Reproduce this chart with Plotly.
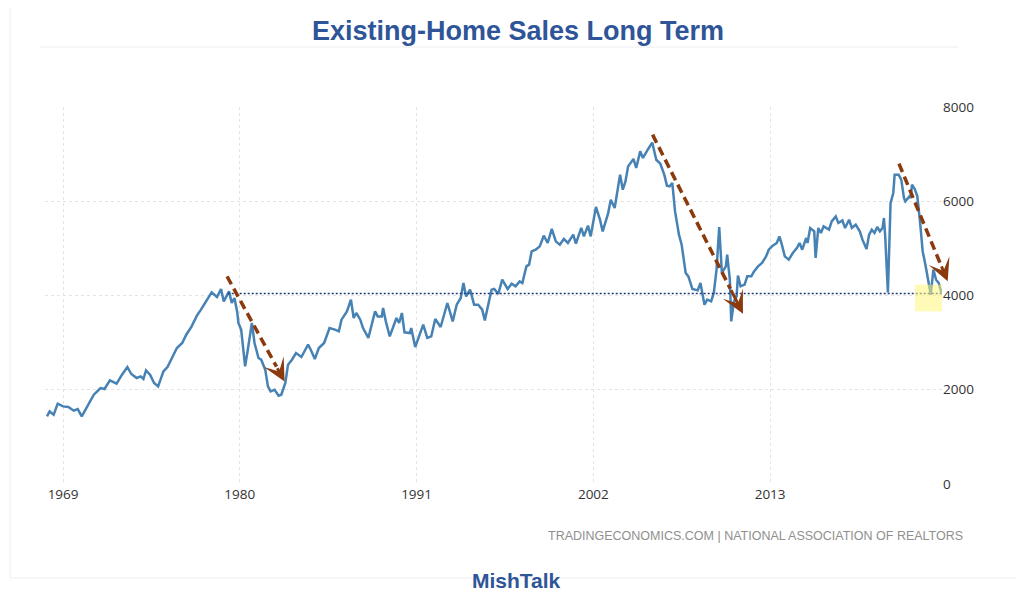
import pandas as pd
import plotly.graph_objects as go

# ---------------- data ----------------
dates = [
    "1968-01", "1968-03", "1968-06", "1968-09", "1969-01", "1969-05", "1969-09", "1969-12",
    "1970-03", "1970-05", "1970-09", "1970-12", "1971-05", "1971-08", "1971-12", "1972-05", "1972-09",
    "1973-01", "1973-04", "1973-08", "1973-11", "1974-01", "1974-03", "1974-06", "1974-09", "1974-12",
    "1975-04", "1975-07", "1975-10", "1976-02", "1976-06", "1976-09", "1977-01", "1977-05", "1977-08", "1977-12",
    "1978-04", "1978-08", "1978-11", "1979-01", "1979-05", "1979-07", "1979-09", "1979-11", "1979-12",
    "1980-02", "1980-05", "1980-07", "1980-10", "1980-12", "1981-03", "1981-05", "1981-08", "1981-10", "1981-12",
    "1982-03", "1982-06", "1982-08", "1982-11", "1983-01", "1983-04", "1983-07", "1983-11",
    "1984-04", "1984-06", "1984-09", "1984-12", "1985-04", "1985-08", "1985-12",
    "1986-03", "1986-05", "1986-09", "1986-12", "1987-02", "1987-04", "1987-07", "1987-09",
    "1988-01", "1988-06", "1988-08", "1988-11", "1988-12", "1989-02", "1989-05", "1989-10", "1989-12",
    "1990-02", "1990-04", "1990-08", "1990-09", "1990-12", "1991-06", "1991-09", "1991-12",
    "1992-03", "1992-07", "1992-12", "1993-04", "1993-07", "1993-10", "1993-12",
    "1994-02", "1994-05", "1994-08", "1994-11", "1995-02", "1995-04", "1995-09", "1995-11",
    "1996-02", "1996-05", "1996-09", "1996-12", "1997-03", "1997-06", "1997-08", "1997-11",
    "1998-01", "1998-03", "1998-06", "1998-09", "1998-12", "1999-03", "1999-06", "1999-09", "1999-12",
    "2000-03", "2000-06", "2000-10", "2000-12", "2001-04", "2001-06", "2001-09", "2001-11",
    "2002-03", "2002-06", "2002-08", "2002-12", "2003-02", "2003-05", "2003-09", "2003-11",
    "2004-01", "2004-03", "2004-07", "2004-09", "2004-12", "2005-02", "2005-06", "2005-09", "2005-12",
    "2006-03", "2006-06", "2006-08", "2006-10", "2006-12", "2007-02", "2007-05", "2007-07", "2007-10", "2007-12",
    "2008-03", "2008-07", "2008-09", "2008-12", "2009-02", "2009-05", "2009-07", "2009-09", "2009-11",
    "2010-01", "2010-04", "2010-05", "2010-07", "2010-08", "2010-10", "2010-12",
    "2011-01", "2011-03", "2011-06", "2011-08", "2011-11", "2012-01", "2012-04", "2012-07", "2012-10", "2012-12",
    "2013-03", "2013-06", "2013-08", "2013-10", "2013-12", "2014-03", "2014-06", "2014-09", "2014-11",
    "2015-01", "2015-04", "2015-05", "2015-07", "2015-10", "2015-11", "2016-01", "2016-03", "2016-05", "2016-09", "2016-11",
    "2017-02", "2017-04", "2017-07", "2017-09", "2017-12", "2018-02", "2018-05", "2018-08", "2018-10",
    "2019-01", "2019-03", "2019-05", "2019-07", "2019-09", "2019-11",
    "2020-01", "2020-02", "2020-03", "2020-05", "2020-07", "2020-09", "2020-10",
    "2021-01", "2021-03", "2021-05", "2021-06", "2021-09", "2021-10", "2021-11",
    "2022-01", "2022-03", "2022-05", "2022-07", "2022-09", "2022-11",
    "2023-01", "2023-03", "2023-05", "2023-07", "2023-09",
]
sales = [
    1435, 1540, 1470, 1705, 1647, 1634, 1556, 1590,
    1435, 1540, 1732, 1895, 2037, 2016, 2199, 2129, 2320,
    2483, 2334, 2250, 2284, 2228, 2411, 2320, 2143, 2071,
    2390, 2483, 2653, 2886, 2992, 3168, 3345, 3572, 3699, 3875,
    4066, 3969, 4138, 3875, 4087, 3841, 3947, 3663, 3417,
    3275, 2496, 2850, 3417, 2992, 2674, 2638, 2426, 2071, 1965,
    2001, 1874, 1895, 2143, 2532, 2638, 2780, 2695,
    2956, 2850, 2653, 2886, 2992, 3311, 3275,
    3239, 3487, 3663, 3911, 3523, 3629, 3487, 3311,
    3099, 3663, 3557, 3557, 3735, 3451, 3132, 3523, 3417,
    3629, 3218, 3204, 3311, 2907, 3381, 3099, 3132,
    3501, 3331, 3841, 3451, 3805, 3947, 4266,
    3981, 4124, 3805, 3805, 3699, 3472, 4124, 4138,
    4035, 4336, 4138, 4251, 4194, 4300, 4266, 4618,
    4654, 4936, 4972, 5043, 5269, 5114, 5412, 5149, 5079,
    5200, 5114, 5291, 5100, 5433, 5255, 5482, 5255,
    5879, 5609, 5361, 5736, 6033, 5857, 6564, 6246,
    6422, 6740, 6897, 6706, 7059, 6918, 7109, 7245, 6880,
    6800, 6564, 6331, 6316, 6388, 5785, 5291, 5079, 4478, 4406,
    4138, 4109, 4266, 3805, 3911, 3875, 4053, 4548, 5454,
    4478, 4618, 4866, 4336, 3451, 3875, 3981,
    4421, 4194, 4230, 4406, 4406, 4512, 4618, 4690, 4830, 4972,
    5057, 5114, 5255, 5057, 4830, 4760, 4902, 5008, 5114,
    4972, 5221, 5114, 5433, 5361, 4796, 5433, 5327, 5467, 5397, 5573,
    5679, 5539, 5594, 5433, 5609, 5433, 5503, 5361, 5185,
    4987, 5291, 5397, 5327, 5454, 5361,
    5433, 5645, 5255, 4066, 5963, 6176, 6564,
    6564, 6458, 6070, 5998, 6104, 6070, 6352,
    6261, 6104, 5573, 4936, 4654, 4336,
    4017, 4548, 4336, 4266, 4053,
]
assert len(dates) == len(sales)

tick_years = ["1969", "1980", "1991", "2002", "2013"]
y_ticks = [0, 2000, 4000, 6000, 8000]

reference_level = 4040
reference_start = "1979-04-01"

arrow_start_dates = ["1979-03-17", "2005-09-08", "2021-01-08"]
arrow_start_values = [4406, 7413, 6797]
arrow_end_dates = ["1982-10-15", "2011-04-25", "2024-01-20"]
arrow_end_values = [2177, 3614, 4300]

highlight_dates = ["2022-01-05", "2023-10-20"]
highlight_values = [3663, 4230]

title_text = "Existing-Home Sales Long Term"
source_text = "TRADINGECONOMICS.COM | NATIONAL ASSOCIATION OF REALTORS"
brand_text = "MishTalk"

# ---------------- layout geometry ----------------
# The page body adds an 8px offset; geometry below is given in screen pixels
OFF = 8
W, H = 1024 - OFF, 602 - OFF
SL, SR, ST, SB = 45, 942, 107, 484          # plot area in screen pixels
PL, PR, PT, PB = SL - OFF, SR - OFF, ST - OFF, SB - OFF
x_range = ["1967-11-17", "2023-09-13"]


def fx(sx):
    return (sx - SL) / (SR - SL)


def fy(sy):
    return (SB - sy) / (SB - ST)


BLUE_TITLE = "#2E5597"
LINE_BLUE = "#4682B4"
BROWN = "#8B3A0E"
GRID = "#e4e4e4"

fig = go.Figure()
fig.add_trace(go.Scatter(
    x=pd.to_datetime(dates), y=sales, mode="lines",
    line=dict(color=LINE_BLUE, width=2.5), showlegend=False,
))

shapes = []
# frame lines of the original image
shapes.append(dict(type="line", xref="paper", yref="paper",
                   x0=fx(40), x1=fx(958), y0=fy(47), y1=fy(47),
                   line=dict(color="#eeeeee", width=1), layer="below"))
shapes.append(dict(type="line", xref="paper", yref="paper",
                   x0=fx(10), x1=fx(10), y0=fy(0), y1=fy(578),
                   line=dict(color="#efefef", width=1), layer="below"))
shapes.append(dict(type="line", xref="paper", yref="paper",
                   x0=fx(10), x1=fx(1024), y0=fy(578), y1=fy(578),
                   line=dict(color="#efefef", width=1), layer="below"))

# dotted reference line
shapes.append(dict(type="line", xref="x", yref="y",
                   x0=reference_start, x1=x_range[1],
                   y0=reference_level, y1=reference_level,
                   line=dict(color="#1F3A7A", width=1.5, dash="2px,2px"), layer="above"))

# highlight box
shapes.append(dict(type="rect", xref="x", yref="y",
                   x0=highlight_dates[0], x1=highlight_dates[1],
                   y0=highlight_values[0], y1=highlight_values[1],
                   fillcolor="rgba(255,246,120,0.55)", line=dict(width=0), layer="above"))

annotations = []
frac = 0.86
for sd, sv, ed, ev in zip(arrow_start_dates, arrow_start_values, arrow_end_dates, arrow_end_values):
    t0, t1 = pd.Timestamp(sd), pd.Timestamp(ed)
    tail_t = (t0 + frac * (t1 - t0)).strftime("%Y-%m-%d %H:%M:%S")
    tail_v = sv + frac * (ev - sv)
    shapes.append(dict(type="line", xref="x", yref="y",
                       x0=sd, y0=sv, x1=tail_t, y1=tail_v,
                       line=dict(color=BROWN, width=3.5, dash="9px,5px"), layer="above"))
    annotations.append(dict(x=ed, y=ev, xref="x", yref="y",
                            ax=tail_t, ay=tail_v, axref="x", ayref="y",
                            showarrow=True, arrowhead=3, arrowsize=1.25, arrowwidth=3,
                            arrowcolor=BROWN, text=""))

annotations.append(dict(text=f"<b>{title_text}</b>", xref="paper", yref="paper",
                        x=fx(518), y=fy(31), xanchor="center", yanchor="middle",
                        showarrow=False,
                        font=dict(family="Liberation Sans, Arial", size=27, color=BLUE_TITLE)))
annotations.append(dict(text=source_text, xref="paper", yref="paper",
                        x=fx(965), y=fy(536), xanchor="right", yanchor="middle",
                        showarrow=False,
                        font=dict(family="Liberation Sans, Arial", size=12.5, color="#8f8f8f")))
annotations.append(dict(text=f"<b>{brand_text}</b>", xref="paper", yref="paper",
                        x=fx(517), y=fy(580), xanchor="center", yanchor="middle",
                        showarrow=False,
                        font=dict(family="Liberation Sans, Arial", size=21, color=BLUE_TITLE)))

tick_font = dict(family="Open Sans, Liberation Sans", size=13.5, color="#333333")

fig.update_layout(
    width=W, height=H,
    margin=dict(l=PL, r=W - PR, t=PT, b=H - PB, autoexpand=False),
    paper_bgcolor="white", plot_bgcolor="white",
    showlegend=False,
    shapes=shapes, annotations=annotations,
    xaxis=dict(type="date", range=x_range,
               tickvals=[f"{y}-01-01" for y in tick_years], ticktext=tick_years,
               showgrid=True, gridcolor=GRID, griddash="dot", gridwidth=1,
               zeroline=False, showline=False, ticks="", tickfont=tick_font),
    yaxis=dict(side="right", range=[0, 8000], tickvals=y_ticks,
               ticktext=[str(v) for v in y_ticks],
               showgrid=True, gridcolor=GRID, griddash="dot", gridwidth=1,
               zeroline=False, showline=False, ticks="", tickfont=tick_font),
)

fig.write_html("out.html")
